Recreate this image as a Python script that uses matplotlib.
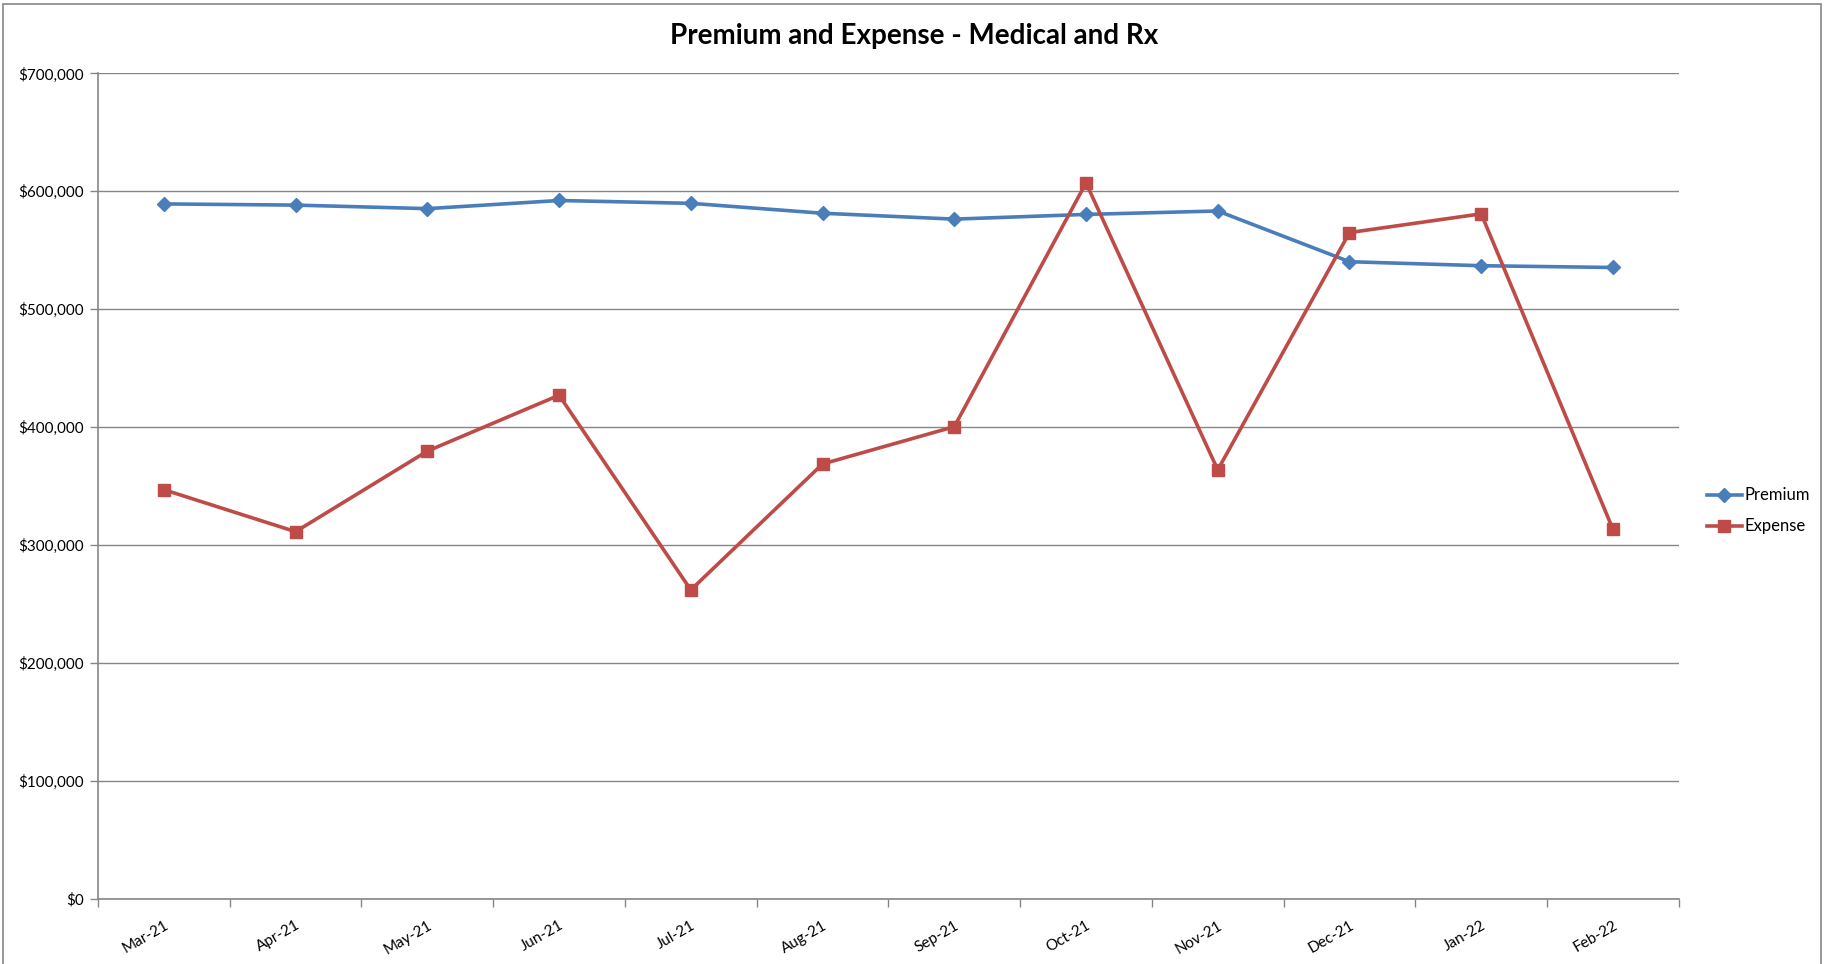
import matplotlib.pyplot as plt
from matplotlib.patches import Rectangle
from matplotlib.ticker import FuncFormatter
import numpy as np

plt.rcParams['font.family'] = ['Lato', 'DejaVu Sans']

months = ["Mar-21", "Apr-21", "May-21", "Jun-21", "Jul-21", "Aug-21",
          "Sep-21", "Oct-21", "Nov-21", "Dec-21", "Jan-22", "Feb-22"]
premium = [589300, 588300, 585300, 592200, 589800, 581400,
           576400, 580400, 583300, 540300, 536900, 535400]
expense = [347000, 311400, 379700, 427100, 262000, 368800,
           400400, 607100, 363800, 565000, 580900, 313400]

blue = "#4A7EBB"
red = "#BE4B48"
grid_gray = "#868686"

fig = plt.figure(figsize=(18.28, 9.64), dpi=100)
ax = fig.add_axes([0.0536, 0.0675, 0.9184 - 0.0536, 0.9239 - 0.0675])

x = np.arange(len(months))
ax.plot(x, premium, color=blue, lw=2.6, marker="D", ms=7, label="Premium", zorder=3)
ax.plot(x, expense, color=red, lw=2.6, marker="s", ms=8, label="Expense", zorder=3)

ax.set_xlim(-0.5, len(months) - 0.5)
ax.set_ylim(0, 700000)
ax.set_yticks(np.arange(0, 700001, 100000))
ax.yaxis.set_major_formatter(FuncFormatter(lambda v, p: f"${v:,.0f}"))
ax.grid(axis="y", color=grid_gray, lw=1)
ax.set_axisbelow(True)

# category boundaries carry the ticks, labels sit at the centers
ax.set_xticks(np.arange(-0.5, len(months) + 0.5, 1))
ax.set_xticklabels([])
ax.set_xticks(x, minor=True)
ax.set_xticklabels(months, minor=True, rotation=30, ha="right",
                   rotation_mode="anchor", fontsize=11)
ax.tick_params(axis="x", which="minor", length=0, pad=14)
ax.tick_params(axis="x", which="major", length=6, color=grid_gray, width=1)
ax.tick_params(axis="y", length=6, color=grid_gray, width=1, labelsize=11, pad=4)

for s in ["top", "right"]:
    ax.spines[s].set_visible(False)
for s in ["left", "bottom"]:
    ax.spines[s].set_color(grid_gray)
    ax.spines[s].set_linewidth(1.2)

fig.suptitle("Premium and Expense - Medical and Rx", fontsize=20,
             fontweight="bold", y=0.963, va="center")

fig.legend(loc="center left", bbox_to_anchor=(1700 / 1828, 1 - 511 / 964),
           frameon=False, fontsize=12, handlelength=2.1, handletextpad=0.15,
           labelspacing=0.9, borderaxespad=0)

fig.patches.append(Rectangle((3 / 1828, -0.01), 1818 / 1828, 1 - 4 / 964 + 0.01,
                             transform=fig.transFigure, fill=False,
                             edgecolor=grid_gray, lw=1.2))

fig.savefig("out.png", dpi=100)
